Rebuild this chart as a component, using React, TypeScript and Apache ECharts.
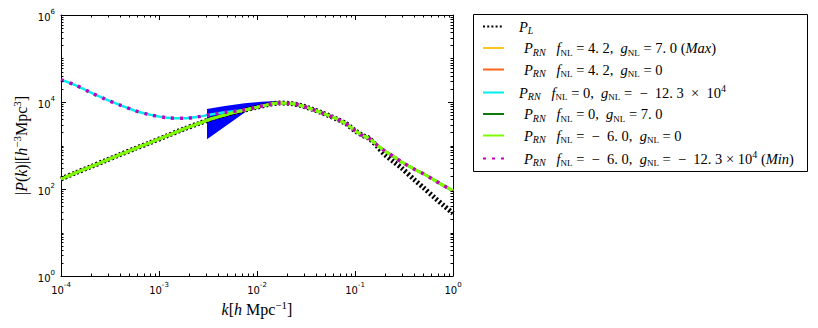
import React, { useEffect, useRef } from 'react';
import * as echarts from 'echarts';

// k grid [h/Mpc]
const kValues = [
  1e-4, 1.4e-4, 2e-4, 2.8e-4, 4e-4, 5.7e-4, 8e-4, 1.2e-3, 1.8e-3, 2.5e-3,
  3.5e-3, 5e-3, 7e-3, 1e-2, 1.3e-2, 1.7e-2, 2.2e-2, 2.8e-2, 3.6e-2, 4.5e-2,
  5.5e-2, 6.5e-2, 8e-2, 0.1, 0.12, 0.14, 0.17, 0.2, 0.25, 0.3,
  0.4, 0.5, 0.65, 0.8, 1.0,
];

// linear power spectrum P_L
const pLinear = [
  170, 234, 324, 442, 617, 851, 1148, 1660, 2399, 3162,
  4169, 5248, 6310, 7586, 8710, 9441, 9226, 8318, 6918, 5754,
  4786, 4074, 3236, 2188, 1698, 1445, 933, 631, 417, 302,
  166, 107, 63, 42, 27.5,
];

// P_RN  fNL = 4.2, gNL = 7.0 (Max)
const pMax = [
  171, 235, 325, 443, 618, 852, 1149, 1661, 2400, 3163,
  4170, 5249, 6311, 7587, 8711, 9442, 9227, 8319, 6919, 5755,
  4787, 4075, 3237, 2189, 1699, 1446, 1000, 759, 550, 417,
  288, 224, 158, 120, 91,
];

// P_RN  fNL = 4.2, gNL = 0
const pF42G0 = [
  171, 235, 325, 443, 618, 852, 1149, 1661, 2400, 3163,
  4170, 5249, 6311, 7587, 8711, 9442, 9227, 8319, 6919, 5755,
  4787, 4075, 3237, 2189, 1699, 1446, 1000, 759, 550, 417,
  288, 224, 158, 120, 91,
];

// P_RN  fNL = 0, gNL = -12.3e4
const pF0Gneg = [
  32360, 24550, 16600, 11750, 8511, 6310, 5129, 4365, 4217, 4571,
  5248, 5888, 6457, 7586, 8710, 9441, 9226, 8318, 6918, 5754,
  4786, 4074, 3236, 2188, 1698, 1445, 1000, 759, 550, 417,
  288, 224, 158, 120, 91,
];

// P_RN  fNL = 0, gNL = 7.0
const pF0G7 = [
  170, 234, 324, 442, 617, 851, 1148, 1660, 2399, 3162,
  4169, 5248, 6310, 7586, 8710, 9441, 9226, 8318, 6918, 5754,
  4786, 4074, 3236, 2188, 1698, 1445, 1000, 759, 550, 417,
  288, 224, 158, 120, 91,
];

// P_RN  fNL = -6.0, gNL = 0
const pFnegG0 = [
  170, 234, 324, 442, 617, 851, 1148, 1660, 2399, 3162,
  4169, 5248, 6310, 7586, 8710, 9441, 9226, 8318, 6918, 5754,
  4786, 4074, 3236, 2188, 1698, 1445, 1000, 759, 550, 417,
  288, 224, 158, 120, 91,
];

// P_RN  fNL = -6.0, gNL = -12.3e4 (Min)
const pMin = [
  32360, 24550, 16600, 11750, 8511, 6310, 5129, 4365, 4217, 4571,
  5248, 5888, 6457, 7586, 8710, 9441, 9226, 8318, 6918, 5754,
  4786, 4074, 3236, 2188, 1698, 1445, 1000, 759, 550, 417,
  288, 224, 158, 120, 91,
];

// blue filled band
const bandUpperK = [3.09e-3, 4.7e-3, 7.5e-3, 1.1e-2, 1.65e-2];
const bandUpperP = [6900, 8100, 9300, 10200, 10600];
const bandLowerK = [1.65e-2, 1.1e-2, 8.15e-3, 3.09e-3];
const bandLowerP = [9400, 8000, 6550, 1390];

const xTickExponents = [-4, -3, -2, -1, 0];
const yTickExponents = [0, 2, 4, 6];
const minorMultipliers = [2, 3, 4, 5, 6, 7, 8, 9];

const X_MIN = 1e-4;
const X_MAX = 1;
const Y_MIN = 1;
const Y_MAX = 1e6;

const SERIF = 'Liberation Serif';
const SANS = 'DejaVu Sans';

const seriesDefs = [
  { name: 'P_L', data: pLinear, color: '#000000', width: 5, dash: [2, 2.2] as any },
  { name: 'Max', data: pMax, color: '#ffc61a', width: 2.5, dash: 'solid' as any },
  { name: 'f42g0', data: pF42G0, color: '#ff6619', width: 2.5, dash: 'solid' as any },
  { name: 'f0gneg', data: pF0Gneg, color: '#00eeee', width: 2.5, dash: 'solid' as any },
  { name: 'f0g7', data: pF0G7, color: '#0c7a0c', width: 2.5, dash: 'solid' as any },
  { name: 'fnegg0', data: pFnegG0, color: '#7cfc00', width: 3, dash: 'solid' as any },
  { name: 'Min', data: pMin, color: '#c000c0', width: 3.5, dash: [3, 6] as any },
];

const legendText: Record<string, string> = {
  P_L: '{g0| }{i|P}{isub|L}',
  Max: '{g1| }{i|P}{isub|RN}{r|   }{i|f}{sub|NL}{r| = 4. 2,  }{i|g}{sub|NL}{r| = 7. 0 (}{i|Max}{r|)}',
  f42g0: '{g1| }{i|P}{isub|RN}{r|   }{i|f}{sub|NL}{r| = 4. 2,  }{i|g}{sub|NL}{r| = 0}',
  f0gneg: '{g0| }{i|P}{isub|RN}{r|   }{i|f}{sub|NL}{r| = 0,  }{i|g}{sub|NL}{r| =  −  12. 3  ×  10}{sup|4}',
  f0g7: '{g1| }{i|P}{isub|RN}{r|   }{i|f}{sub|NL}{r| = 0,  }{i|g}{sub|NL}{r| = 7. 0}',
  fnegg0: '{g1| }{i|P}{isub|RN}{r|   }{i|f}{sub|NL}{r| =  −  6. 0,  }{i|g}{sub|NL}{r| = 0}',
  Min: '{g1| }{i|P}{isub|RN}{r|   }{i|f}{sub|NL}{r| =  −  6. 0,  }{i|g}{sub|NL}{r| =  −  12. 3 × 10}{sup|4}{r| (}{i|Min}{r|)}',
};

const FS = 14.5;
const LH = 18;
const legendRich = {
  g0: { width: 10, fontSize: FS, lineHeight: LH },
  g1: { width: 15, fontSize: FS, lineHeight: LH },
  i: { fontFamily: SERIF, fontStyle: 'italic', fontSize: FS, lineHeight: LH, color: '#000' },
  r: { fontFamily: SERIF, fontSize: FS, lineHeight: LH, color: '#000' },
  isub: { fontFamily: SERIF, fontStyle: 'italic', fontSize: 10, lineHeight: 10, verticalAlign: 'bottom', color: '#000' },
  sub: { fontFamily: SERIF, fontSize: 9, lineHeight: 10, verticalAlign: 'bottom', color: '#000' },
  sup: { fontFamily: SERIF, fontSize: 10, lineHeight: 10, verticalAlign: 'top', color: '#000' },
};

const tickRich = {
  b: { fontFamily: SANS, fontSize: 10, lineHeight: 14, verticalAlign: 'bottom', color: '#000' },
  s: { fontFamily: SANS, fontSize: 7, lineHeight: 8, verticalAlign: 'top', color: '#000' },
};

const nameRich = {
  i: { fontFamily: SERIF, fontStyle: 'italic', fontSize: 16, lineHeight: 20, color: '#000' },
  r: { fontFamily: SERIF, fontSize: 16, lineHeight: 20, color: '#000' },
  sup: { fontFamily: SERIF, fontSize: 11, lineHeight: 11, verticalAlign: 'top', color: '#000' },
};

function powLabel(v: number): string {
  const e = Math.round(Math.log10(v));
  const s = e < 0 ? '-' + String(-e) : String(e);
  return '{b|10}{s|' + s + '}';
}

const MINOR_LEN = 2.5;

export default function App() {
  const ref = useRef<HTMLDivElement>(null);
  useEffect(() => {
    if (!ref.current) return;
    const chart = echarts.init(ref.current, undefined, { renderer: 'svg' });

    const xMinor: number[][] = [];
    for (let e = xTickExponents[0]; e < xTickExponents[xTickExponents.length - 1]; e++) {
      for (const m of minorMultipliers) xMinor.push([m * Math.pow(10, e), Y_MIN]);
    }
    const yMinor: number[][] = [];
    for (let e = yTickExponents[0]; e < yTickExponents[yTickExponents.length - 1]; e++) {
      for (const m of minorMultipliers) yMinor.push([X_MIN, m * Math.pow(10, e)]);
      if (e % 2 === 1) yMinor.push([X_MIN, Math.pow(10, e)]);
    }

    const tickStyle = { stroke: '#000', lineWidth: 1 };

    const axisCommon = {
      type: 'log' as const,
      logBase: 10,
      axisLine: { show: true, lineStyle: { color: '#000', width: 1 } },
      axisTick: { show: true, inside: true, length: 5, lineStyle: { color: '#000', width: 1 } },
      splitLine: { show: false },
      minorTick: { show: false },
    };

    const option: any = {
      animation: false,
      backgroundColor: '#ffffff',
      grid: { left: 61, right: 365, top: 15, bottom: 52, containLabel: false },
      xAxis: [
        {
          ...axisCommon,
          min: X_MIN,
          max: X_MAX,
          interval: 1,
          position: 'bottom',
          axisLabel: { margin: 5, formatter: powLabel, rich: tickRich },
          name: '{i|k}{r|[}{i|h}{r| Mpc}{sup|−1}{r|]}',
          nameLocation: 'middle',
          nameGap: 16,
          nameTextStyle: { rich: nameRich },
        },
        {
          ...axisCommon,
          min: X_MIN,
          max: X_MAX,
          interval: 1,
          position: 'top',
          axisLabel: { show: false },
        },
      ],
      yAxis: [
        {
          ...axisCommon,
          min: Y_MIN,
          max: Y_MAX,
          interval: 2,
          position: 'left',
          axisLabel: { margin: 6, formatter: powLabel, rich: tickRich },
          name: '{r||}{i|P}{r|(}{i|k}{r|)|[}{i|h}{sup|−3}{r|Mpc}{sup|3}{r|]}',
          nameLocation: 'middle',
          nameGap: 30,
          nameRotate: 90,
          nameTextStyle: { rich: nameRich },
        },
        {
          ...axisCommon,
          min: Y_MIN,
          max: Y_MAX,
          interval: 2,
          position: 'right',
          axisLabel: { show: false },
        },
      ],
      legend: {
        show: true,
        orient: 'vertical',
        left: 473,
        top: 16,
        padding: [3, 8, 5, 9],
        itemWidth: 21,
        itemHeight: 18,
        itemGap: 5,
        selectedMode: false,
        data: seriesDefs.map((s) => s.name),
        formatter: (name: string) => legendText[name] || name,
        textStyle: { rich: legendRich, fontFamily: SERIF, fontSize: FS },
        itemStyle: { opacity: 0 },
      },
      graphic: [
        {
          type: 'rect',
          shape: { x: 473.5, y: 14.5, width: 334, height: 157 },
          style: { fill: 'none', stroke: '#000', lineWidth: 1 },
          silent: true,
          z: 10,
        },
      ],
      series: [
        {
          type: 'custom',
          name: 'band',
          silent: true,
          z: 1,
          data: [[bandUpperK[0], bandUpperP[0]]],
          renderItem: (_p: any, api: any) => {
            const pts: number[][] = [];
            for (let i = 0; i < bandUpperK.length; i++) pts.push(api.coord([bandUpperK[i], bandUpperP[i]]));
            for (let i = 0; i < bandLowerK.length; i++) pts.push(api.coord([bandLowerK[i], bandLowerP[i]]));
            return { type: 'polygon', shape: { points: pts }, style: { fill: '#0000ff', stroke: 'none' } };
          },
        },
        ...seriesDefs.map((s, idx) => ({
          type: 'line',
          name: s.name,
          data: kValues.map((k, i) => [k, s.data[i]]),
          showSymbol: false,
          symbol: 'none',
          smooth: 0.3,
          silent: true,
          z: 2 + idx,
          color: s.color,
          lineStyle: { color: s.color, width: s.width, type: s.dash, cap: 'butt' },
        })),
        {
          type: 'custom',
          name: 'xminor',
          silent: true,
          z: 20,
          data: xMinor,
          renderItem: (_p: any, api: any) => {
            const v = api.value(0);
            const b = api.coord([v, Y_MIN]);
            const t = api.coord([v, Y_MAX]);
            const x = Math.round(b[0]) + 0.5;
            return {
              type: 'group',
              children: [
                { type: 'line', shape: { x1: x, y1: b[1], x2: x, y2: b[1] - MINOR_LEN }, style: tickStyle },
                { type: 'line', shape: { x1: x, y1: t[1], x2: x, y2: t[1] + MINOR_LEN }, style: tickStyle },
              ],
            };
          },
        },
        {
          type: 'custom',
          name: 'yminor',
          silent: true,
          z: 20,
          data: yMinor,
          renderItem: (_p: any, api: any) => {
            const v = api.value(1);
            const l = api.coord([X_MIN, v]);
            const r = api.coord([X_MAX, v]);
            const y = Math.round(l[1]) + 0.5;
            return {
              type: 'group',
              children: [
                { type: 'line', shape: { x1: l[0], y1: y, x2: l[0] + MINOR_LEN, y2: y }, style: tickStyle },
                { type: 'line', shape: { x1: r[0], y1: y, x2: r[0] - MINOR_LEN, y2: y }, style: tickStyle },
              ],
            };
          },
        },
      ],
    };

    chart.setOption(option);
    return () => chart.dispose();
  }, []);

  return <div ref={ref} style={{ width: 818, height: 328, position: 'absolute', left: 0, top: 0 }} />;
}
